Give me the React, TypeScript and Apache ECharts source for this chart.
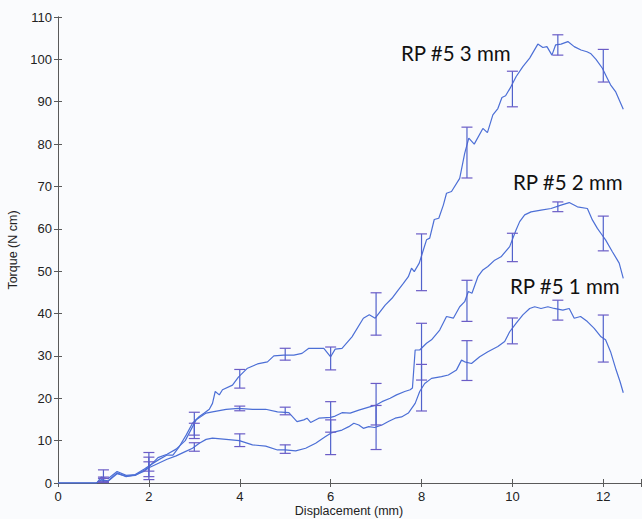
import React, { useEffect, useRef } from "react";
import * as echarts from "echarts";

const xTicks = [0, 2, 4, 6, 8, 10, 12];
const yTicks = [0, 10, 20, 30, 40, 50, 60, 70, 80, 90, 100, 110];
const xTitle = "Displacement (mm)";
const yTitle = "Torque (N cm)";

const curve3mm: number[][] = [
  [0, 0], [0.85, 0], [0.95, 1.4], [1.1, 1.0], [1.3, 2.7], [1.5, 1.8], [1.7, 2.0], [1.9, 3.3], [2.0, 4.0],
  [2.2, 5.4], [2.4, 6.6], [2.53, 6.6], [2.67, 8.6], [2.82, 11.3], [2.96, 14.1], [3.11, 15.7], [3.22, 16.5],
  [3.33, 17.4], [3.4, 18.8], [3.46, 21.6], [3.55, 20.8], [3.62, 22.0], [3.84, 23.1], [3.97, 25.0],
  [4.17, 27.1], [4.39, 28.1], [4.61, 28.6], [4.75, 30.0], [4.97, 30.2], [5.19, 30.2], [5.37, 30.6],
  [5.52, 31.8], [5.85, 31.8], [6.0, 29.8], [6.1, 31.6], [6.25, 31.8], [6.47, 34.5], [6.72, 38.9],
  [6.85, 39.7], [6.98, 38.9], [7.2, 42.0], [7.35, 43.6], [7.49, 45.6], [7.6, 47.1], [7.71, 48.7],
  [7.78, 50.7], [7.84, 49.9], [7.95, 51.9], [8.04, 55.0], [8.11, 57.4], [8.18, 57.8], [8.28, 62.2],
  [8.38, 62.5], [8.48, 65.6], [8.55, 68.4], [8.66, 68.8], [8.84, 71.9], [8.95, 77.8], [9.04, 81.4],
  [9.16, 80.0], [9.35, 83.7], [9.45, 82.7], [9.57, 86.9], [9.68, 88.4], [9.77, 91.0], [9.85, 91.4],
  [9.95, 93.2], [10.08, 95.9], [10.23, 98.3], [10.38, 100.3], [10.56, 103.6], [10.67, 102.8],
  [10.76, 103.0], [10.87, 101.0], [10.95, 103.4], [11.07, 103.6], [11.22, 104.2], [11.36, 103.0],
  [11.51, 102.2], [11.64, 101.8], [11.72, 101.4], [11.84, 100.0], [11.98, 97.9], [12.09, 95.5],
  [12.16, 94.0], [12.27, 92.4], [12.44, 88.2],
];

const curve2mm: number[][] = [
  [0, 0], [0.85, 0], [0.95, 0.7], [1.1, 0.4], [1.3, 2.2], [1.5, 1.6], [1.7, 1.8], [1.9, 3.0], [2.0, 3.8],
  [2.2, 6.0], [2.4, 6.8], [2.6, 8.0], [2.8, 10.0], [3.04, 14.9], [3.26, 16.5], [3.4, 16.8], [3.7, 17.4],
  [3.97, 17.6], [4.28, 17.4], [4.57, 17.4], [4.83, 16.8], [5.08, 16.6], [5.26, 14.5], [5.41, 14.9],
  [5.48, 15.3], [5.56, 14.3], [5.74, 15.3], [6.0, 15.5], [6.1, 15.8], [6.25, 16.6], [6.43, 16.5],
  [6.62, 17.2], [6.84, 17.9], [7.0, 18.4], [7.13, 19.2], [7.31, 20.0], [7.45, 20.8], [7.63, 21.6],
  [7.75, 22.0], [7.8, 22.4], [7.86, 31.4], [7.96, 31.4], [8.11, 33.0], [8.22, 33.8], [8.4, 36.1],
  [8.55, 39.3], [8.7, 38.9], [8.84, 41.6], [8.95, 42.8], [9.03, 45.2], [9.11, 44.8], [9.24, 48.7],
  [9.35, 50.3], [9.46, 51.1], [9.61, 52.6], [9.75, 53.4], [9.94, 55.8], [10.08, 59.7], [10.16, 61.7],
  [10.27, 63.3], [10.41, 64.0], [10.63, 64.4], [10.85, 64.8], [11.07, 65.6], [11.25, 66.2],
  [11.43, 65.2], [11.65, 64.8], [11.76, 62.1], [11.87, 60.1], [11.95, 58.9], [12.05, 57.4],
  [12.2, 54.6], [12.35, 51.9], [12.44, 48.3],
];

const curve1mm: number[][] = [
  [0, 0], [0.85, 0], [0.95, 0.8], [1.1, 0.5], [1.3, 2.4], [1.5, 1.5], [1.7, 1.9], [1.9, 2.8], [2.0, 3.6],
  [2.2, 4.6], [2.4, 5.6], [2.6, 6.4], [2.8, 7.4], [2.96, 8.2], [3.11, 9.4], [3.26, 10.3], [3.4, 10.6],
  [3.7, 10.3], [3.99, 10.0], [4.28, 9.0], [4.57, 8.7], [4.83, 7.8], [5.0, 7.8], [5.23, 7.6], [5.45, 8.2],
  [5.67, 9.4], [5.88, 10.9], [6.03, 11.9], [6.25, 12.5], [6.4, 13.3], [6.51, 14.1], [6.62, 13.7],
  [6.72, 12.9], [6.84, 13.3], [6.97, 13.1], [7.13, 13.7], [7.27, 14.5], [7.42, 15.3], [7.56, 15.6],
  [7.71, 16.5], [7.86, 18.8], [7.96, 21.6], [8.07, 23.5], [8.22, 24.7], [8.44, 25.1], [8.59, 25.5],
  [8.77, 26.7], [8.88, 29.0], [8.95, 28.6], [9.1, 28.2], [9.28, 29.8], [9.46, 31.0], [9.68, 32.2],
  [9.83, 33.4], [9.94, 35.7], [10.08, 37.7], [10.23, 39.7], [10.38, 41.2], [10.49, 41.6], [10.63, 41.2],
  [10.78, 41.6], [10.92, 41.2], [11.11, 40.8], [11.25, 41.2], [11.36, 38.9], [11.5, 39.3],
  [11.65, 38.1], [11.8, 36.5], [11.95, 34.5], [12.05, 33.8], [12.16, 31.0], [12.27, 27.1],
  [12.37, 23.9], [12.44, 21.3],
];

const errX = [1, 2, 3, 4, 5, 6, 7, 8, 9, 10, 11, 12];
const mean3mm = [1.7, 4.0, 14.0, 24.6, 30.4, 29.4, 39.9, 52.1, 78.0, 93.0, 103.4, 98.5];
const err3mm = [1.4, 3.2, 2.7, 2.2, 1.4, 2.7, 5.0, 6.7, 6.0, 4.2, 2.4, 3.85];
const mean2mm = [0.8, 3.8, 12.3, 17.6, 17.0, 15.6, 18.6, 31.0, 43.0, 55.6, 65.2, 58.9];
const err2mm = [0.6, 2.3, 1.8, 0.55, 0.9, 3.6, 4.9, 6.7, 4.85, 3.35, 1.15, 4.1];
const mean1mm = [0.6, 3.9, 8.5, 10.1, 8.0, 10.8, 13.1, 22.5, 28.9, 35.9, 40.8, 34.1];
const err1mm = [0.5, 1.1, 1.0, 1.5, 1.0, 4.1, 5.2, 5.5, 4.7, 3.05, 2.35, 5.55];

const labels = ["RP #5 3 mm", "RP #5 2 mm", "RP #5 1 mm"];

const LINE = "#4c6fd6";
const BAR = "#5162cc";
const CAP = "#6b5cc6";
const TXT = "#222222";
const AX = "#5a5a5a";

function errData(means: number[], errs: number[]) {
  return errX.map((x, i) => [x, means[i] - errs[i], means[i] + errs[i]]);
}

function renderErr(params: any, api: any) {
  const x = api.value(0);
  const lo = api.coord([x, api.value(1)]);
  const hi = api.coord([x, api.value(2)]);
  const w = 5.5;
  return {
    type: "group",
    children: [
      { type: "line", shape: { x1: lo[0], y1: lo[1], x2: hi[0], y2: hi[1] }, style: { stroke: BAR, lineWidth: 1.2 } },
      { type: "line", shape: { x1: lo[0] - w, y1: lo[1], x2: lo[0] + w, y2: lo[1] }, style: { stroke: CAP, lineWidth: 1.2 } },
      { type: "line", shape: { x1: hi[0] - w, y1: hi[1], x2: hi[0] + w, y2: hi[1] }, style: { stroke: CAP, lineWidth: 1.2 } },
    ],
  };
}

export default function App() {
  const ref = useRef<HTMLDivElement>(null);
  useEffect(() => {
    document.body.style.margin = "0";
    document.body.style.background = "#fafbfd";
    const chart = echarts.init(ref.current!, null, { renderer: "svg" });
    const xMin = xTicks[0];
    const yMax = yTicks[yTicks.length - 1];
    const baseX = {
      type: "value",
      min: xMin,
      max: 12.83,
      interval: 2,
      axisLine: { show: true, lineStyle: { color: AX, width: 1 } },
      axisTick: { show: true, inside: true, length: 4, lineStyle: { color: AX } },
      splitLine: { show: false },
    };
    const baseY = {
      type: "value",
      min: yTicks[0],
      max: yMax,
      interval: 10,
      axisLine: { show: true, lineStyle: { color: AX, width: 1 } },
      axisTick: { show: true, inside: true, length: 4, lineStyle: { color: AX } },
      splitLine: { show: false },
    };
    const lineSeries = (data: number[][]) => ({
      type: "line",
      data,
      showSymbol: false,
      symbol: "none",
      lineStyle: { color: LINE, width: 1.2 },
      itemStyle: { color: LINE },
      z: 3,
    });
    const errSeries = (m: number[], e: number[]) => ({
      type: "custom",
      data: errData(m, e),
      renderItem: renderErr,
      encode: { x: 0, y: [1, 2] },
      z: 4,
    });
    chart.setOption({
      animation: false,
      backgroundColor: "#fafbfd",
      grid: { left: 58, top: 17, right: 1, bottom: 36, containLabel: false, outerBoundsMode: "none" },
      xAxis: [
        {
          ...baseX,
          position: "bottom",
          axisLabel: {
            color: TXT,
            fontSize: 13,
            fontFamily: "Liberation Sans",
            margin: 7,
            formatter: (v: number) => (xTicks.indexOf(v) >= 0 ? String(v) : ""),
          },
        },
        { ...baseX, position: "top", axisLabel: { show: false } },
      ],
      yAxis: [
        {
          ...baseY,
          position: "left",
          name: yTitle,
          nameLocation: "middle",
          nameGap: 34,
          nameTextStyle: { color: TXT, fontSize: 12.5, fontFamily: "Liberation Sans" },
          axisLabel: { color: TXT, fontSize: 13, fontFamily: "Liberation Sans", margin: 6 },
        },
        { ...baseY, position: "right", axisLabel: { show: false } },
      ],
      graphic: [
        {
          type: "text",
          x: 349,
          y: 517,
          style: {
            text: xTitle,
            fontSize: 12.5,
            fontFamily: "Liberation Sans",
            fill: TXT,
            align: "center",
            verticalAlign: "bottom",
          },
        },
        { type: "text", left: 401, top: 42, style: { text: labels[0], fontSize: 20.5, fontFamily: "Lato", fill: "#111" } },
        { type: "text", left: 513, top: 171, style: { text: labels[1], fontSize: 20.5, fontFamily: "Lato", fill: "#111" } },
        { type: "text", left: 510, top: 275, style: { text: labels[2], fontSize: 20.5, fontFamily: "Lato", fill: "#111" } },
      ],
      series: [
        lineSeries(curve3mm),
        lineSeries(curve2mm),
        lineSeries(curve1mm),
        errSeries(mean3mm, err3mm),
        errSeries(mean2mm, err2mm),
        errSeries(mean1mm, err1mm),
      ],
    });
    return () => chart.dispose();
  }, []);
  return <div ref={ref} style={{ width: 642, height: 519 }} />;
}
